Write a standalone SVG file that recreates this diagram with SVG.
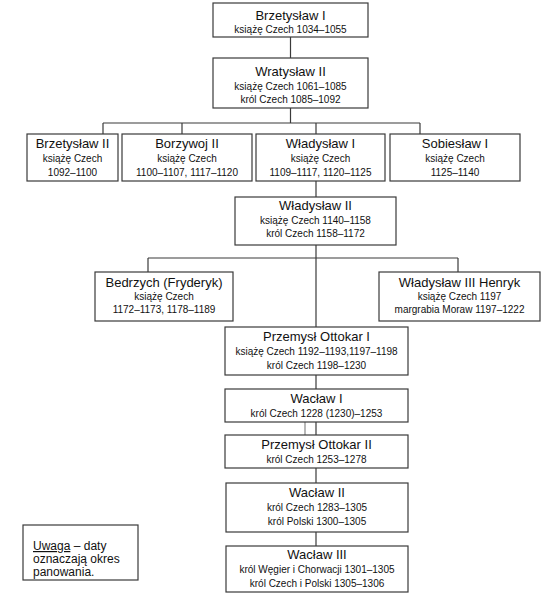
<svg xmlns="http://www.w3.org/2000/svg" width="546" height="610" viewBox="0 0 546 610">
<style>
rect.box{fill:#fff;stroke:#3a3a3a;stroke-width:1.2}
text{font-family:"Liberation Sans",Arial,sans-serif;fill:#111;text-anchor:middle}
.t{font-size:13px}
.s{font-size:10px}
.n{font-size:12px;text-anchor:start}
#connectors line{stroke:#3a3a3a;stroke-width:1.2}
</style>
<rect width="546" height="610" fill="#fff"/>
<g id="connectors">
<line x1="290.5" y1="37" x2="290.5" y2="58"/>
<line x1="290.5" y1="108" x2="290.5" y2="123"/>
<line x1="103" y1="123" x2="420" y2="123"/>
<line x1="103" y1="123" x2="103" y2="134"/>
<line x1="182" y1="123" x2="182" y2="134"/>
<line x1="316" y1="123" x2="316" y2="134"/>
<line x1="420" y1="123" x2="420" y2="134"/>
<line x1="316" y1="181" x2="316" y2="197"/>
<line x1="316" y1="245" x2="316" y2="327"/>
<line x1="148" y1="258" x2="458" y2="258"/>
<line x1="148" y1="258" x2="148" y2="272"/>
<line x1="458" y1="258" x2="458" y2="272"/>
<line x1="316" y1="375" x2="316" y2="389"/>
<line x1="316" y1="422" x2="316" y2="435"/>
<line x1="305" y1="422" x2="305" y2="435" style="stroke:#888"/>
<line x1="316" y1="468" x2="316" y2="483"/>
<line x1="316" y1="532" x2="316" y2="546"/>
</g>
<g id="brzetyslaw1"><rect class="box" x="213" y="3" width="155" height="34"/><text class="t" x="290.5" y="20">Brzetysław I</text><text class="s" x="290.5" y="33">książę Czech 1034–1055</text></g>
<g id="wratyslaw2"><rect class="box" x="213" y="58" width="155" height="50"/><text class="t" x="290.5" y="76">Wratysław II</text><text class="s" x="290.5" y="90">książę Czech 1061–1085</text><text class="s" x="290.5" y="103">król Czech 1085–1092</text></g>
<g id="brzetyslaw2"><rect class="box" x="27" y="134" width="91" height="47"/><text class="t" x="72.5" y="148">Brzetysław II</text><text class="s" x="72.5" y="162">książę Czech</text><text class="s" x="72.5" y="176">1092–1100</text></g>
<g id="borzywoj2"><rect class="box" x="122" y="134" width="130" height="47"/><text class="t" x="187" y="148">Borzywoj II</text><text class="s" x="187" y="162">książę Czech</text><text class="s" x="187" y="176">1100–1107, 1117–1120</text></g>
<g id="wladyslaw1"><rect class="box" x="256" y="134" width="129" height="47"/><text class="t" x="320.5" y="148">Władysław I</text><text class="s" x="320.5" y="162">książę Czech</text><text class="s" x="320.5" y="176">1109–1117, 1120–1125</text></g>
<g id="sobieslaw1"><rect class="box" x="390" y="134" width="130" height="47"/><text class="t" x="455" y="148">Sobiesław I</text><text class="s" x="455" y="162">książę Czech</text><text class="s" x="455" y="176">1125–1140</text></g>
<g id="wladyslaw2"><rect class="box" x="235" y="197" width="161" height="48"/><text class="t" x="315.5" y="210">Władysław II</text><text class="s" x="315.5" y="224">książę Czech 1140–1158</text><text class="s" x="315.5" y="237">król Czech 1158–1172</text></g>
<g id="bedrzych"><rect class="box" x="95" y="272" width="138" height="49"/><text class="t" x="164" y="287">Bedrzych (Fryderyk)</text><text class="s" x="164" y="300">książę Czech</text><text class="s" x="164" y="313">1172–1173, 1178–1189</text></g>
<g id="wladyslaw3"><rect class="box" x="379" y="272" width="161" height="49"/><text class="t" x="459.5" y="287">Władysław III Henryk</text><text class="s" x="459.5" y="300">książę Czech 1197</text><text class="s" x="459.5" y="313">margrabia Moraw 1197–1222</text></g>
<g id="przemysl1"><rect class="box" x="225" y="327" width="183" height="48"/><text class="t" x="316.5" y="341">Przemysł Ottokar I</text><text class="s" x="316.5" y="355">książę Czech 1192–1193,1197–1198</text><text class="s" x="316.5" y="369">król Czech 1198–1230</text></g>
<g id="waclaw1"><rect class="box" x="225" y="389" width="183" height="33"/><text class="t" x="316.5" y="403">Wacław I</text><text class="s" x="316.5" y="417">król Czech 1228 (1230)–1253</text></g>
<g id="przemysl2"><rect class="box" x="225" y="435" width="183" height="33"/><text class="t" x="316.5" y="449">Przemysł Ottokar II</text><text class="s" x="316.5" y="463">król Czech 1253–1278</text></g>
<g id="waclaw2"><rect class="box" x="226" y="483" width="182" height="49"/><text class="t" x="317" y="497">Wacław II</text><text class="s" x="317" y="511">król Czech 1283–1305</text><text class="s" x="317" y="525">król Polski 1300–1305</text></g>
<g id="waclaw3"><rect class="box" x="226" y="546" width="182" height="46"/><text class="t" x="317" y="559">Wacław III</text><text class="s" x="317" y="573">król Węgier i Chorwacji 1301–1305</text><text class="s" x="317" y="587">król Czech i Polski 1305–1306</text></g>
<g id="uwaga"><rect class="box" x="23" y="525" width="115" height="55"/><text class="n" x="33" y="550"><tspan text-decoration="underline">Uwaga</tspan> – daty</text><text class="n" x="33" y="563">oznaczają okres</text><text class="n" x="33" y="576">panowania.</text></g>
</svg>
